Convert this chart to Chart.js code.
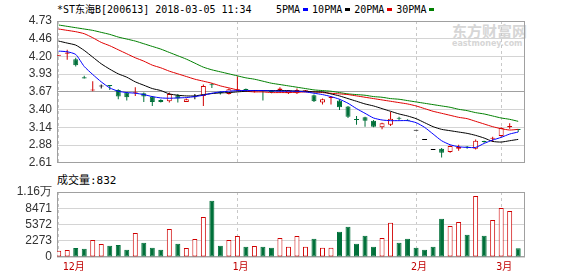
<!DOCTYPE html>
<html>
<head>
<meta charset="utf-8">
<script src="https://cdn.jsdelivr.net/npm/chart.js@4.4.1/dist/chart.umd.min.js"></script>
<style>
body { margin: 0; background: #fff; width: 578px; height: 276px; overflow: hidden; position: relative;
       font-family: "DejaVu Sans Mono", "Noto Sans CJK SC", monospace; color: #000; }
#title { position: absolute; left: 57px; top: 4px; font-size: 10px; line-height: 12px; white-space: pre; }
#legend { position: absolute; left: 276px; top: 4px; font-size: 10px; line-height: 12px; white-space: pre; }
#legend i { display: inline-block; width: 5px; height: 3px; margin: 0 4px 2px 3px; vertical-align: middle; }
#volLabel { position: absolute; left: 57px; top: 174px; font-size: 11px; line-height: 13px; }
#mark { position: absolute; left: 452px; top: 22px; color: #d6d6d6; font-family: "Noto Sans CJK SC"; font-weight: bold; font-size: 15px; line-height: 17px; }
#mark small { display: block; font-family: "DejaVu Sans"; font-size: 8px; line-height: 9px; }
canvas { position: absolute; left: 0; }
#price { top: 0; }
#vol { top: 176px; }
</style>
</head>
<body>
<div id="mark">东方财富网<small>eastmoney.com</small></div>
<div id="title">*ST东海B[200613] 2018-03-05 11:34</div>
<div id="legend"></div>
<div id="volLabel">成交量:832</div>
<canvas id="price" width="578" height="175"></canvas>
<canvas id="vol" width="578" height="100"></canvas>
<script>
const opens  = [4.21, 4.24, 4.16, 3.89, 3.69, 3.75, 3.77, 3.70, 3.66, 3.65, 3.65, 3.60, 3.55, 3.53, 3.62, 3.52, 3.59, 3.61, 3.78, 3.67,
                3.64, 3.69, 3.71, 3.68, 3.69, 3.69, 3.70, 3.65, 3.65, 3.68, 3.62, 3.51, 3.58, 3.54, 3.45, 3.26, 3.29, 3.24, 3.14, 3.18,
                3.28, 3.25, 3.09, 2.95, 2.80, 2.82, 2.77, 2.82, 2.85, 2.82, 2.93, 2.97, 3.01, 3.14, 3.11];
const highs  = [4.22, 4.30, 4.18, 3.91, 3.83, 3.78, 3.77, 3.71, 3.67, 3.74, 3.66, 3.61, 3.56, 3.66, 3.64, 3.57, 3.64, 3.78, 3.80, 3.68,
                3.72, 3.90, 3.72, 3.70, 3.70, 3.70, 3.74, 3.70, 3.72, 3.70, 3.63, 3.57, 3.60, 3.56, 3.46, 3.31, 3.30, 3.25, 3.21, 3.37,
                3.30, 3.26, 3.09, 2.95, 2.80, 2.83, 2.87, 2.88, 2.86, 2.96, 2.94, 3.00, 3.14, 3.20, 3.11];
const lows   = [4.21, 4.15, 4.05, 3.87, 3.68, 3.72, 3.70, 3.56, 3.54, 3.61, 3.52, 3.46, 3.51, 3.51, 3.51, 3.52, 3.56, 3.46, 3.73, 3.63,
                3.63, 3.68, 3.69, 3.66, 3.54, 3.65, 3.68, 3.64, 3.64, 3.67, 3.52, 3.48, 3.48, 3.40, 3.28, 3.18, 3.15, 3.14, 3.11, 3.16,
                3.25, 3.24, 3.09, 2.95, 2.80, 2.69, 2.76, 2.79, 2.82, 2.81, 2.91, 2.92, 3.00, 3.12, 3.07];
const closes = [4.22, 4.26, 4.07, 3.87, 3.70, 3.75, 3.76, 3.60, 3.59, 3.66, 3.60, 3.52, 3.52, 3.64, 3.57, 3.56, 3.59, 3.76, 3.77, 3.65,
                3.71, 3.71, 3.70, 3.69, 3.68, 3.67, 3.72, 3.69, 3.70, 3.69, 3.53, 3.56, 3.59, 3.44, 3.30, 3.25, 3.24, 3.15, 3.20, 3.27,
                3.27, 3.24, 3.09, 2.95, 2.80, 2.76, 2.86, 2.85, 2.84, 2.94, 2.92, 2.98, 3.13, 3.16, 3.10];
const volumes = [375, 509, 890, 757, 2416, 1653, 1329, 1462, 566, 3751, 1901, 947, 566, 4514, 1710, 890, 2607, 6802, 9910, 1329,
                 2416, 3179, 1138, 1272, 1138, 947, 2797, 1138, 3179, 1138, 2664, 947, 947, 3999, 4952, 1710, 3236, 1138, 2797, 5715,
                 1901, 2664, 947, 566, 1138, 6478, 5086, 5849, 3427, 10807, 3236, 6230, 8518, 7946, 832];
const ma5  = [4.28, 4.27, 4.23, 4.05, 3.93, 3.82, 3.73, 3.68, 3.66, 3.65, 3.63, 3.60, 3.58, 3.575, 3.58, 3.585, 3.60, 3.62, 3.65, 3.67,
              3.68, 3.69, 3.69, 3.69, 3.69, 3.685, 3.68, 3.68, 3.68, 3.67, 3.65, 3.63, 3.60, 3.56, 3.50, 3.42, 3.35, 3.28, 3.25, 3.24,
              3.24, 3.24, 3.21, 3.14, 3.04, 2.94, 2.88, 2.85, 2.84, 2.84, 2.90, 2.95, 2.99, 3.04, 3.07];
const ma10 = [4.43, 4.40, 4.37, 4.29, 4.19, 4.09, 4.01, 3.94, 3.89, 3.82, 3.77, 3.72, 3.69, 3.64, 3.62, 3.61, 3.61, 3.63, 3.645, 3.655,
              3.66, 3.67, 3.68, 3.69, 3.69, 3.69, 3.69, 3.69, 3.68, 3.68, 3.67, 3.67, 3.64, 3.61, 3.57, 3.53, 3.49, 3.46, 3.42, 3.38,
              3.34, 3.31, 3.27, 3.21, 3.15, 3.11, 3.09, 3.07, 3.05, 3.02, 2.98, 2.93, 2.92, 2.94, 2.96];
const ma20 = [4.61, 4.59, 4.57, 4.54, 4.48, 4.41, 4.36, 4.30, 4.24, 4.18, 4.13, 4.07, 4.03, 3.98, 3.94, 3.90, 3.86, 3.83, 3.80, 3.76,
              3.73, 3.70, 3.68, 3.67, 3.67, 3.66, 3.66, 3.66, 3.665, 3.67, 3.67, 3.66, 3.65, 3.64, 3.63, 3.61, 3.59, 3.57, 3.55, 3.53,
              3.51, 3.49, 3.46, 3.42, 3.38, 3.35, 3.32, 3.29, 3.27, 3.23, 3.19, 3.15, 3.12, 3.10, 3.11];
const ma30 = [4.67, 4.65, 4.63, 4.61, 4.59, 4.56, 4.53, 4.49, 4.46, 4.43, 4.39, 4.35, 4.31, 4.26, 4.21, 4.16, 4.10, 4.04, 4.00, 3.97,
              3.94, 3.91, 3.88, 3.86, 3.83, 3.80, 3.78, 3.76, 3.74, 3.72, 3.70, 3.69, 3.68, 3.66, 3.64, 3.63, 3.62, 3.60, 3.59, 3.57,
              3.56, 3.54, 3.52, 3.50, 3.48, 3.46, 3.44, 3.41, 3.39, 3.36, 3.34, 3.31, 3.28, 3.26, 3.23];

const monthIdx = [0, 21, 42, 52];
const monthNames = ['12月', '1月', '2月', '3月'];
const priceTicks = [2.61, 2.88, 3.14, 3.40, 3.67, 3.93, 4.20, 4.46, 4.73];
const volTicks = ['0', '2273', '5372', '8471', '1.16万'];
const volMin = -826, volMax = 11570;
const maNames = ['5PMA', '10PMA', '20PMA', '30PMA'];
const maColors = ['#0000ff', '#000000', '#e00000', '#008000'];

const RED = '#d00000', GREEN = '#00703a';
const days = closes.map((c, i) => i);

// candle colour: up red, down green, flat black
const candleCol = i => closes[i] > opens[i] ? RED : (closes[i] < opens[i] ? GREEN : '#000');
const volUp = i => closes[i] > opens[i] || (closes[i] === opens[i] && (i === 0 || closes[i] >= closes[i - 1]));

// legend
const leg = document.getElementById('legend');
maNames.forEach((n, k) => {
    leg.insertAdjacentHTML('beforeend', `${n}<i style="background:${maColors[k]}"></i>`);
});

const frame = {
    id: 'frame',
    beforeDatasetsDraw(chart) {
        const a = chart.chartArea, c = chart.ctx;
        c.save();
        c.strokeStyle = '#a0a0a0';
        c.lineWidth = 1;
        c.strokeRect(Math.round(a.left) + 0.5, Math.round(a.top) + 0.5, Math.round(a.right - a.left) - 1, Math.round(a.bottom - a.top) - 1);
        c.restore();
    }
};

const tickFont = { family: "'Liberation Sans', Arial", size: 12 };
const xScale = (showLabels) => ({
    type: 'linear', min: -0.2, max: 54.8, offset: false,
    afterBuildTicks: s => { s.ticks = monthIdx.map(v => ({ value: v })); },
    afterFit: showLabels ? (s => { s.height = 19; }) : undefined,
    ticks: {
        display: showLabels, padding: 4, labelOffset: 3, maxRotation: 0, autoSkip: false,
        color: '#c00000', font: { family: "'DejaVu Sans Mono', 'Noto Sans CJK SC'", size: 10 },
        // first label sits inside the plot, pad it so it starts right of the frame
        callback: (v, k) => k === 0 ? '    ' + monthNames[k] : monthNames[k]
    },
    grid: { color: '#c8c8c8', drawTicks: false, offset: false },
    border: { display: false, dash: [3, 3] }
});

new Chart(document.getElementById('price'), {
    type: 'bar',
    data: {
        labels: days,
        datasets: [
            ...maNames.map((n, k) => ({
                type: 'line', label: n, data: [ma5, ma10, ma20, ma30][k],
                borderColor: maColors[k], borderWidth: 1, pointRadius: 0, tension: 0.2, order: 0
            })),
            {
                label: 'body', data: days.map(i => [opens[i], closes[i]]),
                backgroundColor: days.map(i => closes[i] > opens[i] ? '#fff' : candleCol(i)),
                borderColor: days.map(candleCol), borderWidth: 1, borderSkipped: false,
                maxBarThickness: 5, minBarLength: 1, grouped: false, order: 1
            },
            {
                label: 'wick', data: days.map(i => [lows[i], highs[i]]),
                backgroundColor: days.map(candleCol), borderWidth: 0,
                maxBarThickness: 1, grouped: false, order: 2
            }
        ]
    },
    options: {
        responsive: false, animation: false, devicePixelRatio: 1,
        layout: { padding: { left: 0, right: 53, top: 21, bottom: 8 } },
        plugins: { legend: { display: false }, tooltip: { enabled: false } },
        scales: {
            x: xScale(false),
            y: {
                min: priceTicks[0], max: priceTicks[priceTicks.length - 1],
                afterBuildTicks: s => {
                    const n = priceTicks.length;
                    s.ticks = priceTicks.map((t, k) => ({ value: s.min + k * (s.max - s.min) / (n - 1) }));
                },
                afterFit: s => { s.width = 57; },
                ticks: { padding: 5, autoSkip: false, color: '#333', font: tickFont, callback: (v, k) => priceTicks[k].toFixed(2) },
                grid: { drawTicks: false, color: ctx => ctx.index === 4 ? '#a0a0a0' : '#d4d4d4' },
                border: { display: false }
            }
        }
    },
    plugins: [frame]
});

new Chart(document.getElementById('vol'), {
    type: 'bar',
    data: {
        labels: days,
        datasets: [{
            label: '成交量', data: volumes, base: volMin,
            backgroundColor: days.map(i => volUp(i) ? '#fff' : GREEN),
            borderColor: days.map(i => volUp(i) ? RED : GREEN),
            borderWidth: 1, borderSkipped: false, maxBarThickness: 5, grouped: false
        }]
    },
    options: {
        responsive: false, animation: false, devicePixelRatio: 1,
        layout: { padding: { left: 0, right: 53, top: 16, bottom: 0 } },
        plugins: { legend: { display: false }, tooltip: { enabled: false } },
        scales: {
            x: xScale(true),
            y: {
                min: volMin, max: volMax,
                afterBuildTicks: s => {
                    const n = volTicks.length;
                    s.ticks = volTicks.map((t, k) => ({ value: s.min + k * (s.max - s.min) / (n - 1) }));
                },
                afterFit: s => { s.width = 57; },
                ticks: { padding: 5, autoSkip: false, color: '#333', font: tickFont, callback: (v, k) => volTicks[k] },
                grid: { drawTicks: false, color: '#d4d4d4' },
                border: { display: false }
            }
        }
    },
    plugins: [frame]
});
</script>
</body>
</html>
